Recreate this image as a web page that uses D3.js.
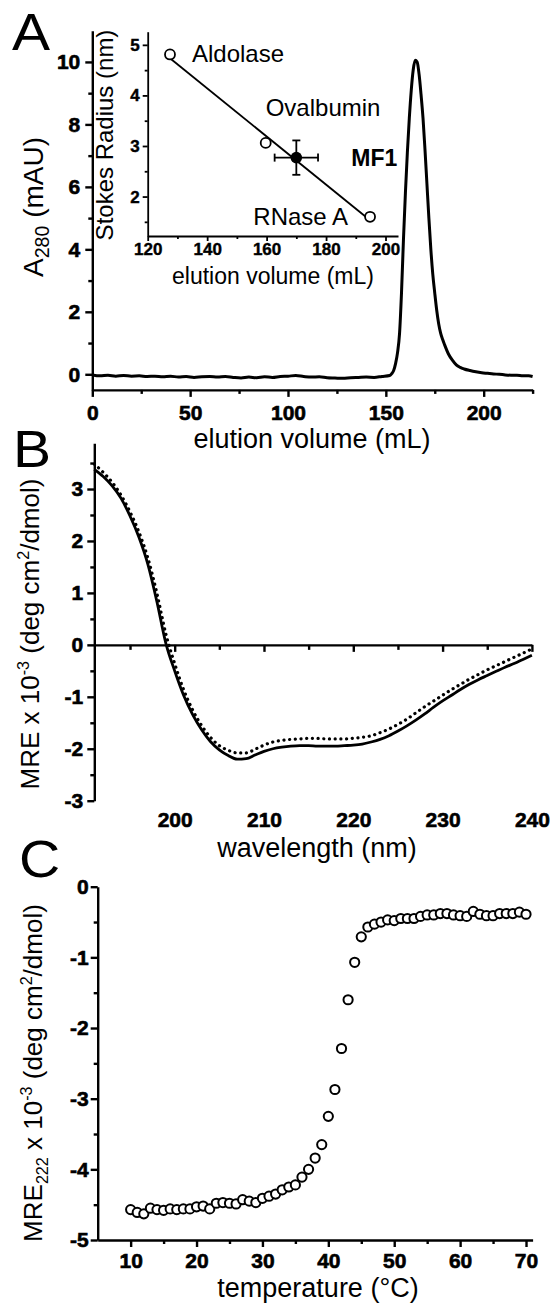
<!DOCTYPE html>
<html>
<head>
<meta charset="utf-8">
<script src="https://cdn.jsdelivr.net/npm/d3@7"></script>
<style>
  body { margin: 0; background: #fff; }
  svg { display: block; background: #fff; }
  text { font-family: "Liberation Sans", Arial, Helvetica, sans-serif; fill: #000; }
</style>
</head>
<body>
<svg id="fig" width="555" height="1306"></svg>
<script>
// ---- Panel A: size-exclusion chromatogram ----
const elutionVolume = [0, 4, 8, 12, 16, 20, 24, 28, 32, 36, 40, 44, 48, 52, 56, 60, 64, 68, 72, 76,
  80, 84, 88, 92, 96, 100, 104, 108, 112, 116, 120, 124, 128, 132, 136, 140, 144, 148, 152,
  153, 154, 155, 156, 157, 158, 159, 160, 161, 162, 163, 164, 165, 166, 167, 168, 169, 170,
  171, 172, 173, 174, 175, 176, 177, 178, 179, 180, 182, 184, 186, 188, 190, 193, 196, 199,
  202, 205, 208, 211, 214, 217, 220, 223, 225];
const a280 = [-0.02, -0.05, -0.03, -0.06, -0.04, -0.06, -0.05, -0.07, -0.06, -0.08, -0.06, -0.09, -0.07, -0.10, -0.08, -0.07, -0.09, -0.07, -0.10, -0.12,
  -0.09, -0.11, -0.08, -0.10, -0.07, -0.06, -0.04, -0.07, -0.09, -0.08, -0.11, -0.12, -0.13, -0.11, -0.10, -0.09, -0.10, -0.07, -0.04,
  0.02, 0.12, 0.35, 0.70, 1.30, 2.60, 4.30, 5.80, 7.10, 8.20, 9.10, 9.75, 10.05, 10.00, 9.60, 8.95, 8.20, 7.20,
  6.10, 5.00, 4.00, 3.20, 2.60, 2.05, 1.62, 1.32, 1.12, 0.95, 0.65, 0.45, 0.30, 0.22, 0.17, 0.12, 0.08, 0.05,
  0.03, 0.01, 0.00, -0.02, -0.03, -0.03, -0.05, -0.05, -0.07];

// Inset: calibration standards
const standardNames = ['Aldolase', 'Ovalbumin', 'RNase A'];
const standardVolume = [127.5, 159.7, 194.8];
const standardRadius = [4.81, 3.06, 1.60];
const mf1Volume = [170.0];
const mf1VolumeErr = [7.3];
const mf1Radius = [2.77];
const mf1RadiusErr = [0.34];

// ---- Panel B: far-UV CD spectra ----
const wavelength = [191, 192, 193, 194, 195, 196, 197, 198, 199, 200, 201, 202, 203, 204, 205, 206, 207, 208, 209, 210,
  211, 212, 213, 214, 215, 216, 217, 218, 219, 220, 221, 222, 223, 224, 225, 226, 227, 228, 229, 230,
  231, 232, 233, 234, 235, 236, 237, 238, 239, 240];
const mreSolid = [3.38, 3.24, 3.06, 2.82, 2.48, 2.07, 1.55, 0.84, 0.04, -0.50, -0.97, -1.34, -1.63, -1.86, -2.02, -2.13, -2.20, -2.19, -2.12, -2.05,
  -2.00, -1.97, -1.95, -1.94, -1.94, -1.95, -1.95, -1.95, -1.94, -1.93, -1.91, -1.87, -1.82, -1.75, -1.66, -1.56, -1.45, -1.33, -1.20, -1.08,
  -0.97, -0.86, -0.76, -0.67, -0.59, -0.51, -0.43, -0.36, -0.28, -0.20];
const mreDotted = [3.48, 3.32, 3.13, 2.88, 2.56, 2.17, 1.67, 1.00, 0.22, -0.36, -0.86, -1.25, -1.55, -1.78, -1.94, -2.03, -2.08, -2.08, -2.01, -1.93,
  -1.87, -1.84, -1.82, -1.81, -1.80, -1.80, -1.81, -1.81, -1.81, -1.80, -1.78, -1.75, -1.69, -1.62, -1.53, -1.43, -1.31, -1.19, -1.08, -0.97,
  -0.86, -0.76, -0.66, -0.57, -0.48, -0.40, -0.32, -0.24, -0.16, -0.08];

// ---- Panel C: thermal melt at 222 nm ----
const temperature = [10, 11, 12, 13, 14, 15, 16, 17, 18, 19, 20, 21, 22, 23, 24, 25, 26, 27, 28, 29, 30,
  31, 32, 33, 34, 35, 36, 37, 38, 39, 40, 41, 42, 43, 44, 45, 46, 47, 48, 49, 50,
  51, 52, 53, 54, 55, 56, 57, 58, 59, 60, 61, 62, 63, 64, 65, 66, 67, 68, 69, 70];
const mre222 = [-4.57, -4.61, -4.63, -4.55, -4.57, -4.58, -4.56, -4.57, -4.56, -4.56, -4.53, -4.52, -4.56, -4.48, -4.47, -4.48, -4.49, -4.43, -4.45, -4.47, -4.41,
  -4.38, -4.35, -4.29, -4.25, -4.22, -4.11, -4.00, -3.84, -3.65, -3.25, -2.87, -2.29, -1.60, -1.07, -0.71, -0.57, -0.53, -0.50, -0.47, -0.48,
  -0.45, -0.45, -0.45, -0.42, -0.40, -0.40, -0.38, -0.38, -0.40, -0.41, -0.42, -0.35, -0.39, -0.41, -0.41, -0.38, -0.38, -0.38, -0.36, -0.39];

const FONT = '"Liberation Sans", Arial, Helvetica, sans-serif';
const svg = d3.select('#fig');
svg.append('rect').attr('width', 555).attr('height', 1306).attr('fill', '#fff');

/**
 * Draw an axis plus a second pass for unlabeled minor ticks
 */
function drawAxis(parent, axisFn, scale, opts) {
  const o = Object.assign({ major: [], minor: [], size: 7, minorSize: 4, pad: 6, font: 21, width: 2.4, labels: true, heavy: 0.6 }, opts);
  const g = parent.append('g').attr('transform', opts.transform || null);

  const major = axisFn(scale)
    .tickValues(o.major)
    .tickSize(o.size)
    .tickSizeOuter(0)
    .tickPadding(o.pad)
    .tickFormat(o.labels ? (d => String(d)) : '');
  g.call(major);

  g.attr('font-size', null).attr('font-family', null);
  g.select('.domain').attr('stroke', '#000').attr('stroke-width', o.width);
  g.selectAll('.tick line').attr('stroke', '#000').attr('stroke-width', o.width);
  g.selectAll('.tick text')
    .attr('font-size', o.font)
    .attr('font-weight', 'bold')
    .attr('font-family', FONT)
    .attr('fill', '#000')
    .attr('stroke', '#000')
    .attr('stroke-width', o.heavy);

  if (o.minor.length) {
    const mg = parent.append('g').attr('transform', opts.transform || null);
    mg.call(axisFn(scale).tickValues(o.minor).tickSize(o.minorSize).tickSizeOuter(0).tickFormat(''));
    mg.select('.domain').remove();
    mg.selectAll('.tick line').attr('stroke', '#000').attr('stroke-width', o.width);
  }
  return g;
}

function label(parent, x, y, str, size, anchor, weight) {
  return parent.append('text')
    .attr('x', x).attr('y', y)
    .attr('font-size', size)
    .attr('font-weight', weight || 'normal')
    .attr('text-anchor', anchor || 'start')
    .text(str);
}

// big panel letters are a little wider than the plain face
function panelLetter(x, y, str) {
  return svg.append('text')
    .attr('transform', `translate(${x},${y}) scale(1.12,1)`)
    .attr('font-size', 51)
    .text(str);
}

// vertical title made of pieces: [text, 'sub'|'sup'|null]
function verticalTitle(parent, cx, cy, pieces, size, small) {
  const t = parent.append('text')
    .attr('transform', `translate(${cx},${cy}) rotate(-90)`)
    .attr('text-anchor', 'middle')
    .attr('font-size', size)
    .attr('dy', '0.35em');
  let shift = 0;
  pieces.forEach(([s, kind]) => {
    const target = kind === 'sub' ? 6 : kind === 'sup' ? -10 : 0;
    t.append('tspan')
      .attr('dy', target - shift)
      .attr('font-size', kind ? size * (small || 0.62) : size)
      .text(s);
    shift = target;
  });
  return t;
}

// ================= Panel A =================
const xA = d3.scaleLinear([0, 225], [92.3, 532.6]);
const yA = d3.scaleLinear([-0.5, 11], [389.9, 30.7]);
const gA = svg.append('g');

gA.append('path')
  .datum(elutionVolume.map((v, i) => [v, a280[i]]))
  .attr('fill', 'none')
  .attr('stroke', '#000')
  .attr('stroke-width', 3)
  .attr('stroke-linejoin', 'round')
  .attr('d', d3.line().x(d => xA(d[0])).y(d => yA(d[1])).curve(d3.curveMonotoneX));

drawAxis(gA, d3.axisLeft, yA, {
  transform: `translate(${xA(0)},0)`, major: [0, 2, 4, 6, 8, 10], minor: [1, 3, 5, 7, 9], pad: 5
});
drawAxis(gA, d3.axisBottom, xA, {
  transform: `translate(0,${yA(-0.5)})`, major: [0, 50, 100, 150, 200], minor: [25, 75, 125, 175, 225], pad: 8
});
label(gA, 312, 448, 'elution volume (mL)', 27, 'middle');
verticalTitle(gA, 43, 207, [['A', null], ['280', 'sub'], [' (mAU)', null]], 28, 0.7);
panelLetter(12, 50, 'A');

// ---- Inset ----
const xI = d3.scaleLinear([120, 204.2], [147.7, 398]);
const yI = d3.scaleLinear([1.22, 5.26], [236, 31.7]);
const gI = svg.append('g');

// least-squares calibration line through the standards
const mx = d3.mean(standardVolume), my = d3.mean(standardRadius);
const slope = d3.sum(standardVolume, (v, i) => (v - mx) * (standardRadius[i] - my)) /
  d3.sum(standardVolume, v => (v - mx) * (v - mx));
const fitX = d3.extent(standardVolume);
gI.append('line')
  .attr('x1', xI(fitX[0])).attr('y1', yI(my + slope * (fitX[0] - mx)))
  .attr('x2', xI(fitX[1])).attr('y2', yI(my + slope * (fitX[1] - mx)))
  .attr('stroke', '#000').attr('stroke-width', 1.8);

// MF1 error bars
mf1Volume.forEach((v, i) => {
  const cx = xI(v), cy = yI(mf1Radius[i]);
  const x0 = xI(v - mf1VolumeErr[i]), x1 = xI(v + mf1VolumeErr[i]);
  const y0 = yI(mf1Radius[i] - mf1RadiusErr[i]), y1 = yI(mf1Radius[i] + mf1RadiusErr[i]);
  const eb = gI.append('g').attr('stroke', '#000').attr('stroke-width', 1.8);
  eb.append('line').attr('x1', x0).attr('x2', x1).attr('y1', cy).attr('y2', cy);
  eb.append('line').attr('x1', x0).attr('x2', x0).attr('y1', cy - 4).attr('y2', cy + 4);
  eb.append('line').attr('x1', x1).attr('x2', x1).attr('y1', cy - 4).attr('y2', cy + 4);
  eb.append('line').attr('x1', cx).attr('x2', cx).attr('y1', y0).attr('y2', y1);
  eb.append('line').attr('x1', cx - 4).attr('x2', cx + 4).attr('y1', y0).attr('y2', y0);
  eb.append('line').attr('x1', cx - 4).attr('x2', cx + 4).attr('y1', y1).attr('y2', y1);
  gI.append('circle').attr('cx', cx).attr('cy', cy).attr('r', 5.8).attr('fill', '#000');
  label(gI, cx + 55, cy + 8, 'MF1', 23, 'start', 'bold');
});

gI.selectAll('.std')
  .data(standardVolume)
  .enter()
  .append('circle')
  .attr('class', 'std')
  .attr('cx', d => xI(d))
  .attr('cy', (d, i) => yI(standardRadius[i]))
  .attr('r', 5)
  .attr('fill', '#fff')
  .attr('stroke', '#000')
  .attr('stroke-width', 1.8);

// standard labels
const stdLabelPos = [
  { dx: 22, dy: 8, anchor: 'start' },
  { dx: 0, dy: -27, anchor: 'start' },
  { dx: -22, dy: 8, anchor: 'end' }
];
standardNames.forEach((name, i) => {
  const p = stdLabelPos[i];
  label(gI, xI(standardVolume[i]) + p.dx, yI(standardRadius[i]) + p.dy, name, 24, p.anchor);
});

drawAxis(gI, d3.axisLeft, yI, {
  transform: `translate(${xI(120)},0)`, major: [2, 3, 4, 5], minor: [1.5, 2.5, 3.5, 4.5],
  size: 5, minorSize: 3, pad: 3, font: 17, width: 1.8, heavy: 0.4
});
drawAxis(gI, d3.axisBottom, xI, {
  transform: `translate(0,${yI(1.22)})`, major: [120, 140, 160, 180, 200], minor: [130, 150, 170, 190],
  size: 5, minorSize: 3, pad: 2, font: 17, width: 1.8, heavy: 0.4
});
label(gI, 273, 284, 'elution volume (mL)', 23, 'middle');
verticalTitle(gI, 113, 135, [['Stokes Radius (nm)', null]], 24);

// ================= Panel B =================
const xB = d3.scaleLinear([191, 240], [94.3, 531.9]);
const yB = d3.scaleLinear([-3, 3.88], [800.7, 443.3]);
const gB = svg.append('g');

const lineB = d3.line().x((d, i) => xB(wavelength[i])).y(d => yB(d)).curve(d3.curveMonotoneX);
gB.append('path').datum(mreDotted)
  .attr('fill', 'none').attr('stroke', '#000')
  .attr('stroke-width', 3.2).attr('stroke-linecap', 'round')
  .attr('stroke-dasharray', '0.1 5.6')
  .attr('d', lineB);
gB.append('path').datum(mreSolid)
  .attr('fill', 'none').attr('stroke', '#000')
  .attr('stroke-width', 2.8).attr('stroke-linejoin', 'round')
  .attr('d', lineB);

drawAxis(gB, d3.axisLeft, yB, {
  transform: `translate(${xB(191)},0)`, major: [-3, -2, -1, 0, 1, 2, 3], minor: [-2.5, -1.5, -0.5, 0.5, 1.5, 2.5, 3.5], pad: 4
});
// zero line carries the ticks, labels sit below the frame
drawAxis(gB, d3.axisBottom, xB, {
  transform: `translate(0,${yB(0)})`, major: [200, 210, 220, 230, 240], minor: [195, 205, 215, 225, 235],
  size: 7, minorSize: 5, labels: false
});
const gBl = gB.append('g').attr('transform', `translate(0,${yB(-3)})`)
  .call(d3.axisBottom(xB).tickValues([200, 210, 220, 230, 240]).tickSize(0).tickPadding(11).tickFormat(d => String(d)));
gBl.attr('font-size', null).attr('font-family', null);
gBl.select('.domain').remove();
gBl.selectAll('text').attr('font-size', 21).attr('font-weight', 'bold').attr('font-family', FONT)
  .attr('fill', '#000').attr('stroke', '#000').attr('stroke-width', 0.6);

label(gB, 317, 857, 'wavelength (nm)', 27, 'middle');
verticalTitle(gB, 39, 634, [['MRE x 10', null], ['-3', 'sup'], [' (deg cm', null], ['2', 'sup'], ['/dmol)', null]], 26);
panelLetter(13, 467, 'B');

// ================= Panel C =================
const xC = d3.scaleLinear([5, 71], [97.7, 532.6]);
const yC = d3.scaleLinear([-5, 0], [1240, 886.7]);
const gC = svg.append('g');

drawAxis(gC, d3.axisLeft, yC, {
  transform: `translate(${xC(5)},0)`, major: [-5, -4, -3, -2, -1, 0], minor: [-4.5, -3.5, -2.5, -1.5, -0.5], pad: 2
});
drawAxis(gC, d3.axisBottom, xC, {
  transform: `translate(0,${yC(-5)})`, major: [10, 20, 30, 40, 50, 60, 70], minor: [15, 25, 35, 45, 55, 65], pad: 6
});

gC.selectAll('.pt')
  .data(temperature)
  .enter()
  .append('circle')
  .attr('class', 'pt')
  .attr('cx', d => xC(d))
  .attr('cy', (d, i) => yC(mre222[i]))
  .attr('r', 4.6)
  .attr('fill', '#fff')
  .attr('stroke', '#000')
  .attr('stroke-width', 2);

label(gC, 318, 1297, 'temperature (\u00B0C)', 27, 'middle');
verticalTitle(gC, 42, 1073, [['MRE', null], ['222', 'sub'], [' x 10', null], ['-3', 'sup'], [' (deg cm', null], ['2', 'sup'], ['/dmol)', null]], 26);
panelLetter(19, 877, 'C');
</script>
</body>
</html>
